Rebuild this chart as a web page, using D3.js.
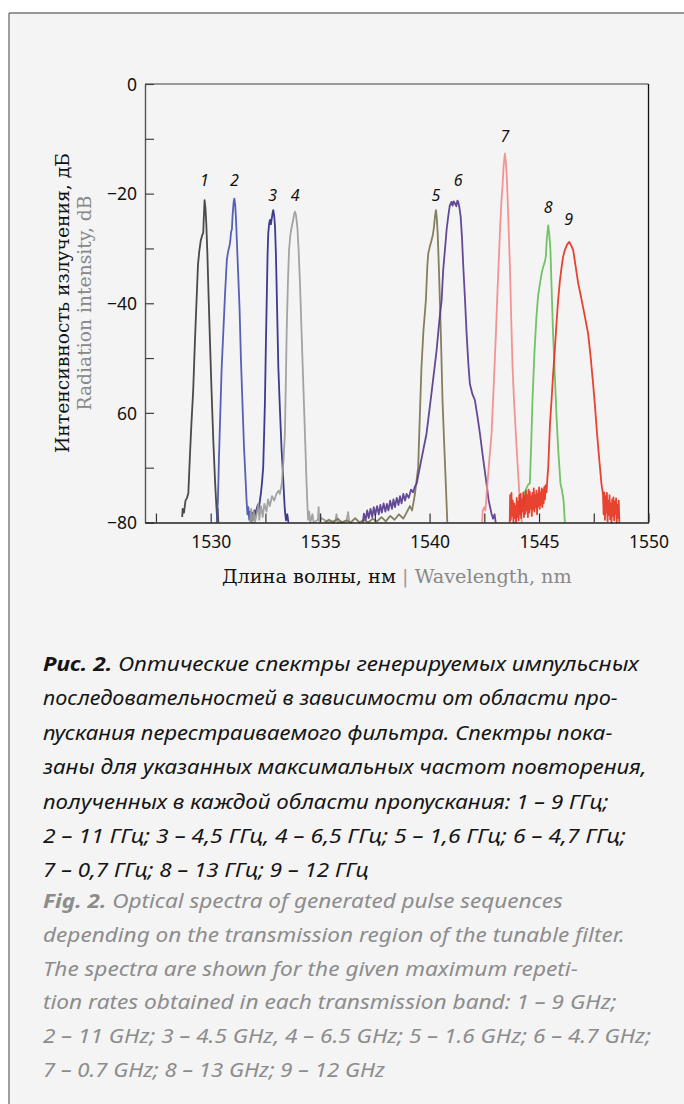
<!DOCTYPE html>
<html><head><meta charset="utf-8">
<script src="https://cdn.jsdelivr.net/npm/d3@7"></script>
<style>body{margin:0;background:#fff}svg{display:block}</style>
</head><body>
<svg id="chart" width="684" height="1104"></svg>
<script>
// ---------- DATA ----------
const series1 = [[1528.70,-79.0],[1528.72,-77.5],[1528.78,-78.2],[1528.85,-76.0],[1528.92,-75.5],[1528.98,-74.6],[1529.05,-68],[1529.12,-62],[1529.20,-56],[1529.28,-47],[1529.36,-39],[1529.42,-33],[1529.48,-30.5],[1529.55,-28.5],[1529.62,-27.5],[1529.66,-27.2],[1529.69,-24],[1529.72,-21.2],[1529.76,-22.5],[1529.80,-25.5],[1529.85,-31],[1529.90,-38],[1529.96,-46],[1530.04,-56],[1530.12,-65],[1530.20,-72.5],[1530.26,-77],[1530.30,-79.5],[1530.32,-77.5],[1530.35,-80]];
const series2 = [[1530.28,-80],[1530.33,-76],[1530.38,-68],[1530.44,-60],[1530.50,-52],[1530.58,-45],[1530.66,-38],[1530.74,-32],[1530.80,-30.5],[1530.86,-29.5],[1530.90,-28.5],[1530.93,-27],[1530.97,-26.5],[1531.00,-24],[1531.05,-21.5],[1531.08,-20.9],[1531.12,-22],[1531.16,-25],[1531.20,-29],[1531.26,-35],[1531.32,-41],[1531.38,-50],[1531.45,-58],[1531.52,-66],[1531.58,-71],[1531.64,-76],[1531.68,-78.5],[1531.72,-77.2],[1531.76,-79.5],[1531.80,-78],[1531.85,-80]];
const series3 = [[1531.85,-79.8],[1531.90,-78.2],[1531.95,-79.5],[1532.00,-77.8],[1532.05,-78.6],[1532.10,-77.5],[1532.15,-76.8],[1532.20,-77.5],[1532.25,-76],[1532.30,-74.5],[1532.35,-72.5],[1532.40,-69.9],[1532.44,-64],[1532.48,-57.7],[1532.52,-48],[1532.56,-39.5],[1532.60,-31],[1532.63,-27.3],[1532.67,-25.5],[1532.71,-24.8],[1532.75,-25.6],[1532.79,-24.5],[1532.83,-23.5],[1532.86,-23.0],[1532.90,-24],[1532.94,-26.1],[1532.98,-31],[1533.01,-36.4],[1533.05,-44],[1533.09,-51.6],[1533.15,-58],[1533.20,-63],[1533.24,-66.8],[1533.30,-71],[1533.35,-75],[1533.39,-77.8],[1533.44,-79.6],[1533.50,-78.5],[1533.55,-80]];
const series4 = [[1531.80,-80],[1531.85,-77.5],[1531.90,-80],[1531.98,-78],[1532.02,-80],[1532.10,-78.5],[1532.18,-76.5],[1532.22,-79.5],[1532.30,-77],[1532.38,-79],[1532.45,-76.6],[1532.55,-78],[1532.62,-75.8],[1532.70,-77],[1532.80,-75.2],[1532.90,-76],[1533.00,-74.8],[1533.10,-74.2],[1533.16,-74.8],[1533.25,-72.9],[1533.32,-69],[1533.39,-63.8],[1533.43,-55],[1533.47,-45.5],[1533.53,-36],[1533.58,-30.3],[1533.64,-27.5],[1533.70,-26.1],[1533.76,-25],[1533.81,-23.8],[1533.85,-23.3],[1533.90,-24],[1533.96,-26.1],[1534.02,-30.5],[1534.08,-36.4],[1534.15,-45],[1534.23,-54.7],[1534.30,-63],[1534.38,-72.9],[1534.42,-77],[1534.45,-79.5],[1534.50,-78],[1534.55,-80],[1534.65,-78.5],[1534.70,-80],[1534.90,-79.5],[1534.93,-77.2],[1534.97,-80],[1535.05,-79.2],[1535.40,-80],[1535.70,-79.6],[1535.75,-78.5],[1535.80,-80],[1536.20,-79.8],[1536.28,-78.1],[1536.33,-80]];
const series5 = [[1535.20,-80],[1535.40,-79.5],[1535.60,-80],[1535.80,-79.3],[1536.00,-80],[1536.20,-79.6],[1536.40,-80],[1536.60,-79.2],[1536.80,-80],[1537.00,-79.5],[1537.20,-80],[1537.40,-79.3],[1537.60,-79.8],[1537.80,-79],[1538.00,-79.8],[1538.20,-78.8],[1538.40,-79.5],[1538.60,-78.5],[1538.80,-79.3],[1538.95,-78.2],[1539.10,-77],[1539.20,-77.8],[1539.28,-76],[1539.33,-74.8],[1539.40,-72.5],[1539.48,-69.9],[1539.55,-61],[1539.63,-51.6],[1539.72,-45],[1539.83,-39.5],[1539.90,-33],[1539.94,-30.9],[1540.02,-29.5],[1540.09,-28.5],[1540.15,-27.5],[1540.20,-26.1],[1540.25,-24],[1540.29,-23.0],[1540.33,-24.5],[1540.37,-27.3],[1540.42,-33],[1540.47,-39.5],[1540.53,-48],[1540.59,-57.7],[1540.66,-65],[1540.74,-72.9],[1540.78,-77],[1540.81,-80]];
const series6 = [[1536.95,-80],[1537.00,-78.4],[1537.08,-79.5],[1537.15,-77.8],[1537.22,-79.2],[1537.30,-77.5],[1537.38,-79],[1537.45,-77.2],[1537.52,-78.6],[1537.60,-77],[1537.68,-78.5],[1537.75,-76.8],[1537.82,-78.2],[1537.90,-76.5],[1537.98,-78],[1538.05,-76.6],[1538.12,-77.8],[1538.20,-76],[1538.28,-77.5],[1538.35,-75.8],[1538.42,-77.2],[1538.50,-75.5],[1538.58,-76.8],[1538.65,-75.2],[1538.72,-76.5],[1538.80,-74.8],[1538.88,-76],[1538.95,-74.8],[1539.05,-75.5],[1539.15,-74],[1539.25,-74.5],[1539.32,-73.5],[1539.41,-72.9],[1539.60,-69],[1539.86,-63.8],[1540.10,-56],[1540.32,-48.6],[1540.45,-43],[1540.55,-39.5],[1540.62,-34],[1540.70,-30.3],[1540.78,-26.5],[1540.85,-24.2],[1540.92,-22.2],[1541.00,-21.5],[1541.05,-22.2],[1541.10,-21.4],[1541.16,-21.8],[1541.22,-22.3],[1541.27,-21.3],[1541.31,-21.5],[1541.36,-22.5],[1541.42,-24.2],[1541.48,-28],[1541.54,-33.4],[1541.62,-39.5],[1541.69,-45.5],[1541.77,-51],[1541.84,-54.7],[1541.95,-56.5],[1542.07,-57.7],[1542.20,-61],[1542.30,-63.8],[1542.45,-68.5],[1542.60,-72.9],[1542.70,-76],[1542.78,-77.5],[1542.83,-78.4],[1542.90,-79.3],[1542.97,-78.5],[1543.02,-80]];
const series7 = [[1542.40,-80],[1542.43,-77.8],[1542.50,-77.2],[1542.55,-77.8],[1542.62,-74],[1542.70,-70],[1542.83,-63.8],[1542.93,-55],[1543.03,-45.5],[1543.12,-36],[1543.21,-27.3],[1543.28,-21.5],[1543.33,-18.8],[1543.38,-15],[1543.44,-12.7],[1543.49,-14.5],[1543.54,-18.1],[1543.60,-25],[1543.67,-33.4],[1543.73,-43],[1543.79,-51.6],[1543.86,-58],[1543.94,-63.8],[1544.03,-70],[1544.12,-76],[1544.18,-79],[1544.22,-80]];
const series8 = [[1544.30,-77],[1544.35,-74.5],[1544.45,-73.5],[1544.52,-73],[1544.58,-72.9],[1544.64,-66],[1544.70,-57.7],[1544.79,-49],[1544.88,-42.5],[1544.96,-38.5],[1545.04,-36.4],[1545.12,-34.5],[1545.19,-33.4],[1545.26,-32.5],[1545.31,-31.5],[1545.35,-28.5],[1545.42,-25.8],[1545.47,-27.5],[1545.52,-30.3],[1545.58,-38],[1545.64,-45.5],[1545.72,-53],[1545.80,-60.8],[1545.88,-67],[1545.98,-72.9],[1546.05,-74.2],[1546.12,-76],[1546.18,-80]];
const series9 = [[1543.66,-80],[1543.68,-75],[1543.71,-79.5],[1543.74,-74.6],[1543.77,-78.8],[1543.80,-76],[1543.83,-80],[1543.86,-76.5],[1543.89,-79.2],[1543.92,-77],[1543.95,-80],[1543.98,-75.5],[1544.01,-79],[1544.04,-76.2],[1544.07,-79.6],[1544.10,-75],[1544.13,-78.5],[1544.16,-74.8],[1544.19,-79.2],[1544.22,-75.8],[1544.25,-78],[1544.28,-74.5],[1544.31,-79],[1544.34,-75.2],[1544.37,-78.4],[1544.40,-74.2],[1544.43,-77.8],[1544.46,-75],[1544.49,-79],[1544.52,-74],[1544.55,-78.2],[1544.58,-74.4],[1544.61,-77.5],[1544.64,-75.2],[1544.67,-78.8],[1544.70,-74.6],[1544.73,-77.6],[1544.76,-73.8],[1544.79,-78],[1544.82,-75],[1544.85,-77.2],[1544.88,-74.2],[1544.91,-78.5],[1544.94,-74.8],[1544.97,-77],[1545.00,-73.6],[1545.03,-77.5],[1545.06,-74.5],[1545.09,-76.8],[1545.12,-73.8],[1545.15,-77.2],[1545.18,-74],[1545.21,-76.5],[1545.24,-73.5],[1545.27,-75.8],[1545.30,-73.2],[1545.34,-74.5],[1545.38,-72],[1545.42,-69.9],[1545.50,-62],[1545.57,-57.7],[1545.65,-52.5],[1545.72,-48.6],[1545.80,-43.5],[1545.87,-39.5],[1545.95,-36],[1546.03,-33.4],[1546.10,-31.5],[1546.18,-30.3],[1546.28,-29.3],[1546.38,-28.8],[1546.47,-29.5],[1546.56,-30.3],[1546.68,-33.5],[1546.79,-36.4],[1546.90,-38.5],[1547.01,-40.7],[1547.12,-43],[1547.24,-45.5],[1547.35,-49.5],[1547.47,-54.7],[1547.56,-59],[1547.65,-63.8],[1547.75,-68.5],[1547.85,-72.9],[1547.92,-74.8],[1547.95,-78.5],[1547.98,-74.5],[1548.01,-79.5],[1548.04,-75.2],[1548.07,-78.2],[1548.10,-74.6],[1548.13,-79.8],[1548.16,-76],[1548.19,-78.6],[1548.22,-75],[1548.25,-79.4],[1548.28,-76.5],[1548.31,-80],[1548.34,-75.8],[1548.37,-78.8],[1548.40,-75.4],[1548.43,-79.6],[1548.46,-76.2],[1548.49,-78.4],[1548.52,-75.6],[1548.55,-80],[1548.58,-76.8],[1548.61,-79.2],[1548.64,-76],[1548.67,-80]];

const seriesNames = ["1","2","3","4","5","6","7","8","9"];
// label anchor points (wavelength, dB) just above each peak
const labelWavelength = [1529.71,1531.08,1532.83,1533.86,1540.29,1541.31,1543.44,1545.42,1546.35];
const labelLevel = [-17.5,-17.5,-20.3,-20.3,-20.3,-17.5,-9.6,-22.4,-24.7];

const xMajorTicks = [1530,1535,1540,1545,1550];
const xMinorTicks = [1527.5,1530,1532.5,1535,1537.5,1540,1542.5,1545,1547.5,1550];
const yMinorTicks = [0,-10,-20,-30,-40,-50,-60,-70,-80];
const yMajorTicks = [0,-20,-40,-60,-80];
const yTickLabels = ["0","\u221220","\u221240","60","\u221280"];

const xTitleRu = "Длина волны, нм";
const xTitleEn = "Wavelength, nm";
const yTitleRu = "Интенсивность излучения, дБ";
const yTitleEn = "Radiation intensity, dB";

const captionRu = [
  ["Рис. 2.", " Оптические спектры генерируемых импульсных"],
  ["", "последовательностей в зависимости от области про-"],
  ["", "пускания перестраиваемого фильтра. Спектры пока-"],
  ["", "заны для указанных максимальных частот повторения,"],
  ["", "полученных в каждой области пропускания: 1 – 9 ГГц;"],
  ["", "2 – 11 ГГц; 3 – 4,5 ГГц, 4 – 6,5 ГГц; 5 – 1,6 ГГц; 6 – 4,7 ГГц;"],
  ["", "7 – 0,7 ГГц; 8 – 13 ГГц; 9 – 12 ГГц"]
];
const captionEn = [
  ["Fig. 2.", " Optical spectra of generated pulse sequences"],
  ["", "depending on the transmission region of the tunable filter."],
  ["", "The spectra are shown for the given maximum repeti-"],
  ["", "tion rates obtained in each transmission band: 1 – 9 GHz;"],
  ["", "2 – 11 GHz; 3 – 4.5 GHz, 4 – 6.5 GHz; 5 – 1.6 GHz; 6 – 4.7 GHz;"],
  ["", "7 – 0.7 GHz; 8 – 13 GHz; 9 – 12 GHz"]
];

// ---------- STYLE / LAYOUT ----------
const allSeries = [series1,series2,series3,series4,series5,series6,series7,series8,series9];
const colors = ["#3b3b3b","#4854b0","#2c2a85","#9b9b9b","#7b7450","#573a8e","#f28a8a","#66bd5a","#e6321e"];
const W = 684, H = 1104;
const plot = {left:145, right:648.5, top:84, bottom:522.5};
const captionRuRight = [639,618,613,647,609,626,369];
const captionEnRight = [563,625,578,617,651,385];

const svg = d3.select("#chart");
svg.append("rect").attr("width",W).attr("height",H).attr("fill","#ffffff");
svg.append("rect").attr("x",9).attr("y",13).attr("width",W-9).attr("height",H-13).attr("fill","#f4f4f4");
svg.append("line").attr("x1",9).attr("x2",W).attr("y1",13).attr("y2",13).attr("stroke","#777").attr("stroke-width",1.6);
svg.append("line").attr("x1",9).attr("x2",9).attr("y1",13).attr("y2",H).attr("stroke","#777").attr("stroke-width",1.4);

const x = d3.scaleLinear().domain([1527,1550]).range([plot.left, plot.right]);
const y = d3.scaleLinear().domain([-80,0]).range([plot.bottom, plot.top]);

// curves
const line = d3.line().x(d=>x(d[0])).y(d=>y(d[1]));
const gCurves = svg.append("g");
allSeries.forEach((s,i)=>{
  gCurves.append("path").attr("d", line(s)).attr("fill","none")
    .attr("stroke", colors[i]).attr("stroke-width",1.8).attr("stroke-linejoin","round").attr("opacity",0.92);
});

// frame top / right
svg.append("line").attr("x1",plot.left).attr("x2",plot.right).attr("y1",plot.top).attr("y2",plot.top).attr("stroke","#7a7a7a").attr("stroke-width",1.5);
svg.append("line").attr("x1",plot.right).attr("x2",plot.right).attr("y1",plot.top).attr("y2",plot.bottom).attr("stroke","#111").attr("stroke-width",1.3);

const tickFont = "'Noto Sans', sans-serif";
// y axis
const yAxis = d3.axisLeft(y).tickValues(yMinorTicks).tickSizeInner(-9).tickSizeOuter(0).tickPadding(8)
  .tickFormat(d => { const k = yMajorTicks.indexOf(d); return k>=0 ? yTickLabels[k] : ""; });
const gy = svg.append("g").attr("transform",`translate(${plot.left},0)`).call(yAxis);
gy.select(".domain").attr("stroke","#555").attr("stroke-width",1.4);
gy.selectAll(".tick line").attr("stroke","#444").attr("stroke-width",1.2);
gy.selectAll(".tick text").attr("font-family",tickFont).attr("font-size",17.5).attr("fill","#111").attr("dy","0.36em");

// x axis
const xAxis = d3.axisBottom(x).tickValues(xMinorTicks).tickSizeInner(-9).tickSizeOuter(0).tickPadding(13)
  .tickFormat(d => xMajorTicks.indexOf(d)>=0 ? d3.format("d")(d) : "");
const gx = svg.append("g").attr("transform",`translate(0,${plot.bottom})`).call(xAxis);
gx.select(".domain").attr("stroke","#222").attr("stroke-width",1.5);
gx.selectAll(".tick line").attr("stroke","#333").attr("stroke-width",1.2);
gx.selectAll(".tick text").attr("font-family",tickFont).attr("font-size",17.5).attr("fill","#111");

// series labels
seriesNames.forEach((n,i)=>{
  svg.append("text").attr("x", x(labelWavelength[i])).attr("y", y(labelLevel[i]))
    .attr("text-anchor","middle").attr("dy","0.36em")
    .attr("font-family",tickFont).attr("font-style","italic").attr("font-size",16).attr("fill","#111").text(n);
});

// axis titles
const serif = "'DejaVu Serif', serif";
const xt = svg.append("text").attr("x",(221.7+572)/2).attr("y",583).attr("text-anchor","middle")
  .attr("font-family",serif).attr("font-size",17);
xt.append("tspan").attr("fill","#111").text(xTitleRu);
xt.append("tspan").attr("fill","#999").text(" | ");
xt.append("tspan").attr("fill","#888").text(xTitleEn);
{ const L = xt.node().getComputedTextLength(); xt.attr("font-size", 17*350/L); }

const yt1 = svg.append("text").attr("transform","translate(69,303) rotate(-90)").attr("text-anchor","middle")
  .attr("font-family",serif).attr("font-size",17).attr("fill","#111").text(yTitleRu);
const L1 = yt1.node().getComputedTextLength();
const yfs = 17*300/L1;
yt1.attr("font-size", yfs);
svg.append("text").attr("transform","translate(91,303) rotate(-90)").attr("text-anchor","middle")
  .attr("font-family",serif).attr("font-size",yfs).attr("fill","#888").text(yTitleEn);

// caption
const capFont = "'Noto Sans', sans-serif";
function captionLine(parts, yBase, right, color){
  const t = svg.append("text").attr("x",43).attr("y",yBase).attr("font-family",capFont)
    .attr("font-size",20).attr("font-style","italic").attr("fill",color);
  if (parts[0]) t.append("tspan").attr("font-weight","bold").text(parts[0]);
  t.append("tspan").text(parts[1]);
  const L = t.node().getComputedTextLength();
  const sx = (right-43)/L;
  t.attr("transform",`translate(43,${yBase}) scale(${sx},1) translate(-43,${-yBase})`);
}
const ruCenters = [664,698,733,767,802,836,870];
const enCenters = [901,935,969,1002,1036,1070];
captionRu.forEach((p,i)=>captionLine(p, ruCenters[i]+7, captionRuRight[i], "#151515"));
captionEn.forEach((p,i)=>captionLine(p, enCenters[i]+7, captionEnRight[i], "#8c8c8c"));
</script>
</body></html>
